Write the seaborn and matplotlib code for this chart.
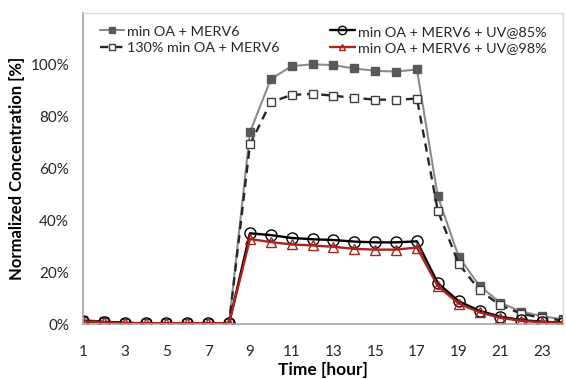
import matplotlib
matplotlib.use("Agg")
import matplotlib.pyplot as plt
import seaborn as sns
import numpy as np
import pandas as pd
from matplotlib.ticker import FuncFormatter

sns.set_theme(style="white")
plt.rcParams['font.family'] = ['Lato', 'DejaVu Sans']

hours = list(range(1, 25))
labels = ["min OA + MERV6", "130% min OA + MERV6",
          "min OA + MERV6 + UV@85%", "min OA + MERV6 + UV@98%"]
s_min_oa = [1.5, 1.0, 0.5, 0.3, 0.3, 0.3, 0.3, 0.3, 74.0, 94.5, 99.5, 100.2,
            99.9, 98.6, 97.7, 97.4, 98.2, 49.3, 26.0, 14.7, 8.2, 4.8, 3.0, 1.8]
s_130_oa = [1.3, 0.9, 0.4, 0.3, 0.3, 0.3, 0.3, 0.3, 69.3, 85.6, 88.4, 88.8,
            88.1, 87.2, 86.6, 86.5, 87.0, 43.7, 23.3, 13.0, 7.2, 4.0, 2.3, 1.4]
s_uv85 = [1.2, 0.8, 0.4, 0.3, 0.3, 0.3, 0.3, 0.3, 35.0, 34.3, 33.2, 32.7,
          32.4, 31.8, 31.5, 31.5, 31.9, 15.8, 8.8, 5.1, 2.8, 1.5, 0.9, 0.5]
s_uv98 = [1.0, 0.7, 0.3, 0.3, 0.3, 0.3, 0.3, 0.3, 32.8, 31.6, 30.7, 30.3,
          29.8, 29.0, 28.7, 28.7, 29.5, 14.6, 7.9, 4.5, 2.4, 1.2, 0.7, 0.4]

df = pd.DataFrame({"hour": hours, labels[0]: s_min_oa, labels[1]: s_130_oa,
                   labels[2]: s_uv85, labels[3]: s_uv98})

fig = plt.figure(figsize=(5.66, 3.79), dpi=100)
ax = fig.add_axes([83/566, 1-324/379, 480/566, 311/379])

red = '#A8241C'
styles = [
    dict(color='#8C8C8C', marker='s', markersize=6, markerfacecolor='#595959',
         markeredgecolor='#595959', linewidth=1.5, linestyle='-'),
    dict(color='#262626', marker='s', markersize=6, markerfacecolor='white',
         markeredgecolor='#404040', linewidth=1.7, linestyle=(0, (3.5, 2.5))),
    dict(color='black', marker='o', markersize=8, markerfacecolor='none',
         markeredgecolor='black', linewidth=1.7, linestyle='-'),
    dict(color=red, marker='^', markersize=6.5, markerfacecolor='none',
         markeredgecolor=red, linewidth=1.7, linestyle='-'),
]
for lab, st in zip(labels, styles):
    sns.lineplot(data=df, x="hour", y=df[lab] / 100.0, ax=ax, label=lab,
                 markeredgewidth=1.0, **st)

ax.set_xlim(1, 24)
ax.set_ylim(0, 1.2)
ax.set_yticks([0, 0.2, 0.4, 0.6, 0.8, 1.0])
ax.yaxis.set_major_formatter(FuncFormatter(lambda v, p: f"{v*100:.0f}%"))
ax.set_xticks(list(range(1, 25)))
ax.set_xticklabels([str(h) if h % 2 == 1 else "" for h in hours])

ax.tick_params(axis='x', direction='out', length=5, width=1, color='#A6A6A6',
               labelsize=11, labelcolor='#262626', pad=10)
ax.tick_params(axis='y', length=0, labelsize=11, labelcolor='#262626', pad=10)

for side in ['left', 'bottom']:
    ax.spines[side].set_color('#A6A6A6')
    ax.spines[side].set_linewidth(1.2)
for side in ['top', 'right']:
    ax.spines[side].set_color('#D9D9D9')
    ax.spines[side].set_linewidth(1.0)

ax.set_xlabel("Time [hour]", fontsize=12.5, fontweight='bold', color='black', labelpad=2)
ax.set_ylabel("Normalized Concentration [%]", fontsize=12, fontweight='bold',
              color='black', labelpad=4)

h, l = ax.get_legend_handles_labels()
if ax.get_legend():
    ax.get_legend().remove()
common = dict(loc='upper left', frameon=False, fontsize=10.4, handlelength=1.7,
              handletextpad=0.2, labelspacing=0.3, borderpad=0,
              borderaxespad=0, labelcolor='#262626', markerscale=0.75)
leg1 = ax.legend(h[:2], l[:2], bbox_to_anchor=(0.035, 0.96), **common)
ax.add_artist(leg1)
leg2 = ax.legend(h[2:], l[2:], bbox_to_anchor=(0.515, 0.96), **common)

fig.savefig("out.png", dpi=100)
